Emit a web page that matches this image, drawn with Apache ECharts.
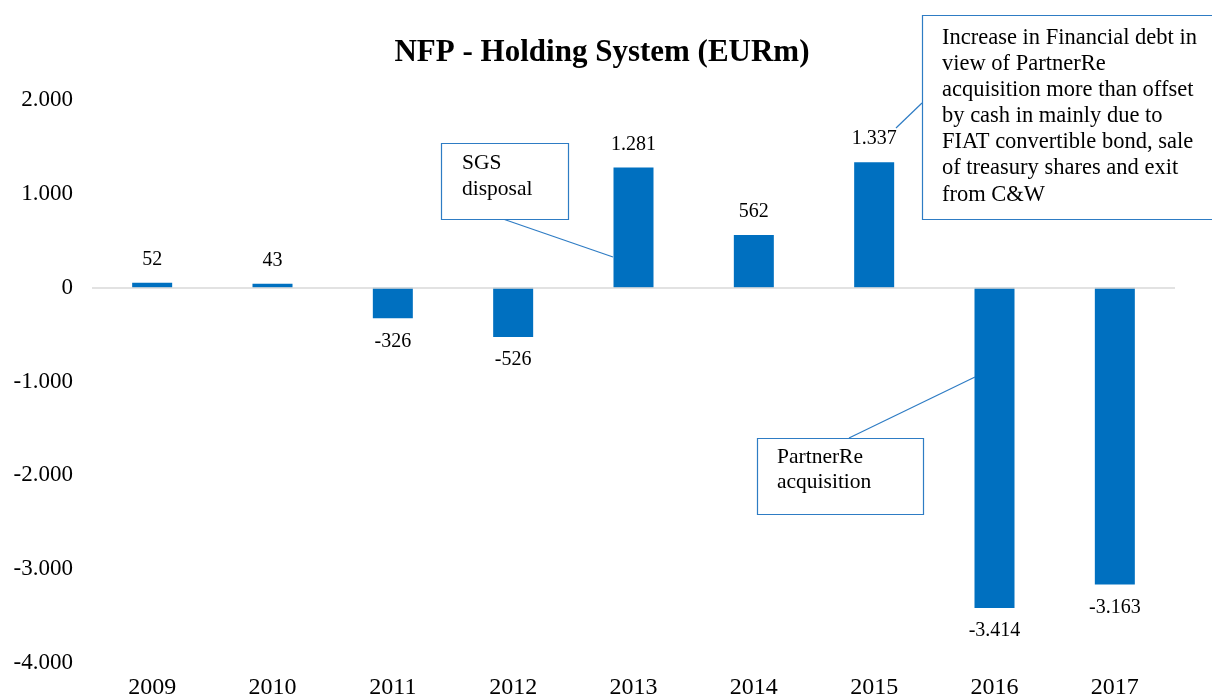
<!DOCTYPE html>
<html>
<head>
<meta charset="utf-8">
<script src="https://cdn.jsdelivr.net/npm/echarts@6/dist/echarts.min.js"></script>
<style>
html,body{margin:0;padding:0;background:#fff;}
#chart{width:1212px;height:696px;}
</style>
</head>
<body>
<div id="chart"></div>
<script>
const categories = ['2009','2010','2011','2012','2013','2014','2015','2016','2017'];
const nfpValues = [52, 43, -326, -526, 1281, 562, 1337, -3414, -3163];
const yTicks = { min: -4000, max: 2000, interval: 1000 };
const titleText = 'NFP - Holding System (EURm)';
const noteSGS = 'SGS\ndisposal';
const notePartnerRe = 'PartnerRe\nacquisition';
const noteDebt = 'Increase in Financial debt in\nview of PartnerRe\nacquisition more than offset\nby cash in mainly due to\nFIAT convertible bond, sale\nof treasury shares and exit\nfrom C&W';

const FONT = '"Liberation Serif", "Times New Roman", serif';
const BAR = '#0070C0';
const BOX = '#2E7CC4';

function fmt(v) {
  const s = Math.abs(v).toString().replace(/\B(?=(\d{3})+(?!\d))/g, '.');
  return (v < 0 ? '-' : '') + s;
}

const chart = echarts.init(document.getElementById('chart'), null, {renderer: 'canvas'});
chart.setOption({
  animation: false,
  backgroundColor: '#fff',
  title: {
    text: titleText,
    left: 597, textAlign: 'center', top: 32,
    textStyle: {fontFamily: FONT, fontSize: 31, fontWeight: 'bold', color: '#000'}
  },
  grid: {left: 92, right: 37, top: 100, bottom: 33, containLabel: false, outerBoundsMode: 'none'},
  xAxis: {
    type: 'category',
    data: categories,
    axisLine: {show: false, onZero: false},
    axisTick: {show: false},
    axisLabel: {fontFamily: FONT, fontSize: 24, color: '#000', margin: 13}
  },
  yAxis: {
    type: 'value',
    min: yTicks.min, max: yTicks.max, interval: yTicks.interval,
    axisLine: {show: false},
    axisTick: {show: false},
    splitLine: {show: false},
    axisLabel: {fontFamily: FONT, fontSize: 23, color: '#000', margin: 19, formatter: fmt}
  },
  series: [{
    type: 'bar',
    barWidth: 40,
    itemStyle: {color: BAR},
    data: nfpValues.map(v => ({
      value: v,
      label: {show: true, position: v >= 0 ? 'top' : 'bottom', distance: 13,
        formatter: p => fmt(p.value), fontFamily: FONT, fontSize: 20, color: '#000'}
    })),
    markLine: {
      silent: true, symbol: 'none', label: {show: false},
      lineStyle: {color: '#d9d9d9', width: 1.5, type: 'solid'},
      data: [{yAxis: 0}]
    },
    z: 3
  }],
  graphic: [
    // SGS disposal
    {type: 'line', shape: {x1: 503, y1: 219, x2: 613, y2: 257}, style: {stroke: BOX, lineWidth: 1.2}, z: 10},
    {type: 'rect', shape: {x: 441.5, y: 143.5, width: 127, height: 76}, style: {fill: '#fff', stroke: BOX, lineWidth: 1.2}, z: 10},
    {type: 'text', x: 462, y: 150, style: {text: noteSGS, font: '21.5px ' + FONT, fill: '#000', lineHeight: 26}, z: 11},
    // Financial debt note
    {type: 'line', shape: {x1: 922, y1: 103, x2: 896, y2: 128}, style: {stroke: BOX, lineWidth: 1.2}, z: 10},
    {type: 'rect', shape: {x: 922.5, y: 15.5, width: 320, height: 204}, style: {fill: '#fff', stroke: BOX, lineWidth: 1.2}, z: 10},
    {type: 'text', x: 942, y: 25, style: {text: noteDebt, font: '22.5px ' + FONT, fill: '#000', lineHeight: 26.1}, z: 11},
    // PartnerRe acquisition
    {type: 'line', shape: {x1: 849, y1: 438, x2: 975, y2: 377}, style: {stroke: BOX, lineWidth: 1.2}, z: 10},
    {type: 'rect', shape: {x: 757.5, y: 438.5, width: 166, height: 76}, style: {fill: '#fff', stroke: BOX, lineWidth: 1.2}, z: 10},
    {type: 'text', x: 777, y: 445, style: {text: notePartnerRe, font: '21.5px ' + FONT, fill: '#000', lineHeight: 25}, z: 11}
  ]
});
</script>
</body>
</html>
